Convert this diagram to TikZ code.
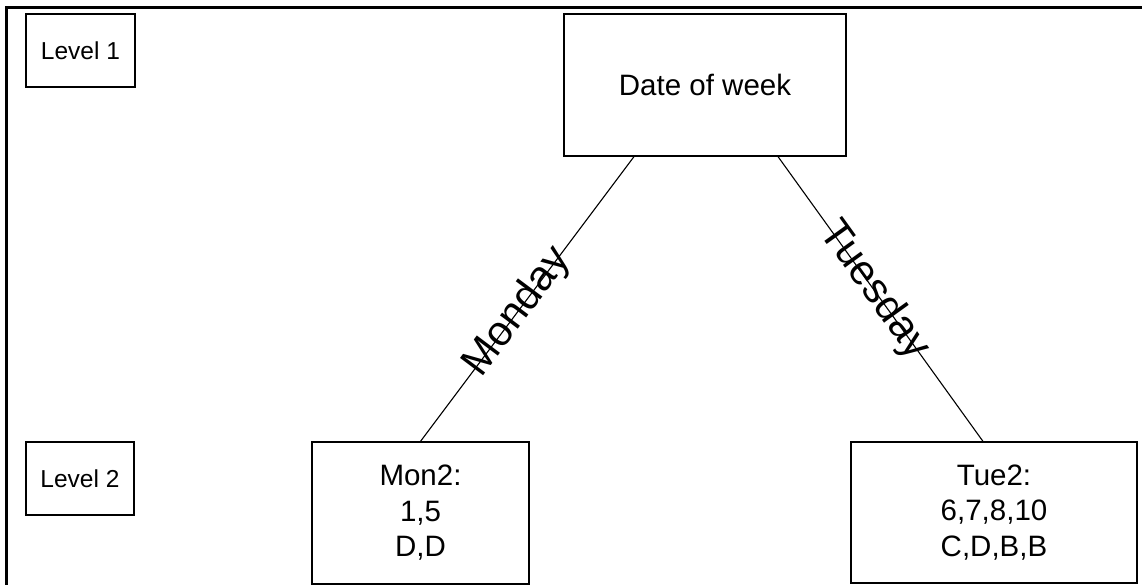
\documentclass[tikz,border=0pt]{standalone}
\usepackage{fontspec}
\setmainfont{Liberation Sans}
\begin{document}
\begin{tikzpicture}[x=1pt,y=-1pt,
  box/.style={draw, line width=1.2pt, inner sep=0pt, align=center},
  big/.style={font=\fontsize{29.5}{35.5}\selectfont},
  small/.style={font=\fontsize{24.5}{28}\selectfont},
  conn/.style={line width=1.1pt},
  lab/.style={font=\fontsize{42}{46}\selectfont, inner sep=0pt}]
\useasboundingbox (0,0) rectangle (1142,585);
\draw[line width=3pt] (6.5,590) -- (6.5,7.5) -- (1150,7.5);
\node[box, small, minimum width=109pt, minimum height=73pt] (l1) at (80.5,50.5) {Level 1};
\node[box, small, minimum width=108pt, minimum height=73pt] (l2) at (80,478.5) {Level 2};
\node[box, big, minimum width=282pt, minimum height=142pt] (date) at (705,85) {Date of week};
\node[box, big, minimum width=217pt, minimum height=142pt] (mon) at (420.5,513) {Mon2:\\1,5\\D,D};
\node[box, big, minimum width=286pt, minimum height=141pt] (tue) at (994,512.5) {Tue2:\\6,7,8,10\\C,D,B,B};
\draw[conn] ([xshift=-71]date.south) -- node[lab, pos=0.547, sloped] {Monday} (mon.north);
\draw[conn] ([xshift=73]date.south) -- node[lab, pos=0.47, sloped] {Tuesday} ([xshift=-11]tue.north);
\end{tikzpicture}
\end{document}
